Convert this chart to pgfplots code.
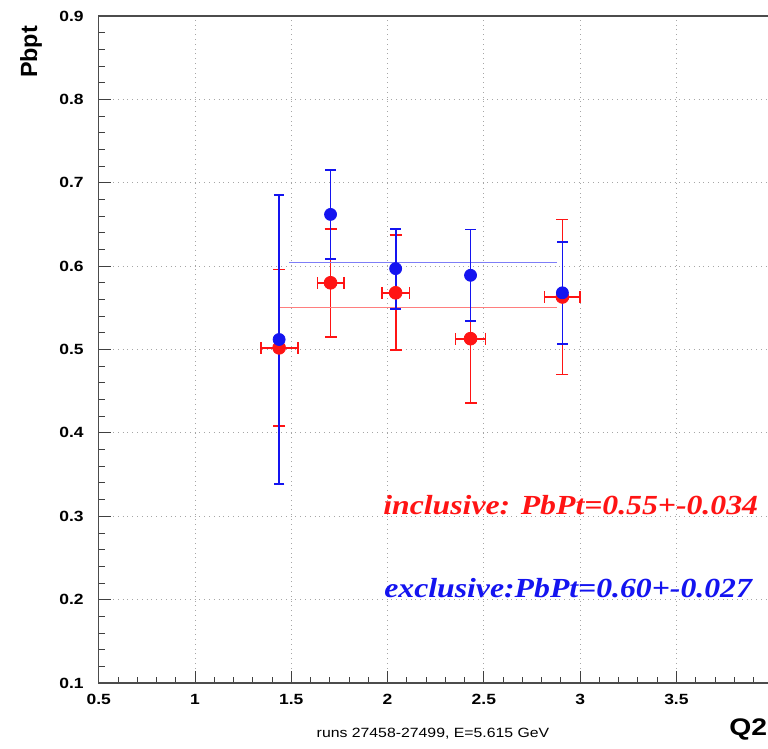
\documentclass[border=0pt]{standalone}
\usepackage{pgfplots}
\pgfplotsset{compat=1.18}
\usepackage{fontspec}
\setmainfont{Liberation Sans}[FakeStretch=1.18]
\newfontfamily\rootsans{Liberation Sans}
\newfontfamily\timesfont{Liberation Serif}[FakeStretch=1.15]
\definecolor{rootred}{RGB}{255,20,20}
\definecolor{rootblue}{RGB}{20,20,240}

\begin{document}
\begin{tikzpicture}
\begin{axis}[
  at={(0,0)}, anchor=south west,
  scale only axis, width=337pt, height=333.5pt,
  xmin=0.5, xmax=4, ymin=0.1, ymax=0.9,
  xtick={0.5,1,1.5,2,2.5,3,3.5,4},
  ytick={0.1,0.2,0.3,0.4,0.5,0.6,0.7,0.8,0.9},
  yticklabels={0.1,0.2,0.3,0.4,0.5,0.6,0.7,0.8,0.9},
  xticklabels={0.5,1,1.5,2,2.5,3,3.5,4},
  minor x tick num=4, minor y tick num=4,
  tick align=inside, tick pos=left,
  major tick length=6pt, minor tick length=3pt,
  tick style={black!75, line width=0.4pt},
  grid=major, major grid style={dotted, black!35, line width=0.4pt},
  axis line style={black!70, line width=0.6pt},
  ticklabel style={font=\bfseries\fontsize{7.4}{9}\selectfont},
  /pgf/number format/assume math mode=true,
  xticklabel style={yshift=-2pt},
  yticklabel style={xshift=-4pt},
  clip=false,
]
% inclusive
\addplot[only marks, mark=*, mark size=3.2pt, color=rootred,
  mark options={fill=rootred, draw=rootred},
  error bars/.cd, x dir=both, x explicit, y dir=both, y explicit,
  error bar style={line width=0.9pt, color=rootred},
  error mark options={rotate=90, mark size=3pt, line width=0.9pt, color=rootred}]
coordinates {
 (1.437,0.502) +- (0.096,0.094)
 (1.704,0.580) +- (0.068,0.065)
 (2.042,0.568) +- (0.072,0.069)
 (2.431,0.513) +- (0.078,0.077)
 (2.908,0.563) +- (0.093,0.093)
};
% fit lines
\addplot[rootred!55, line width=0.4pt] coordinates {(1.44,0.5507) (2.88,0.5507)};
\addplot[rootblue!55, line width=0.4pt] coordinates {(1.49,0.6047) (2.88,0.6047)};
% exclusive
\addplot[only marks, mark=*, mark size=3pt, color=rootblue,
  mark options={fill=rootblue, draw=rootblue},
  error bars/.cd, y dir=both, y explicit,
  error bar style={line width=0.9pt, color=rootblue},
  error mark options={rotate=90, mark size=2.6pt, line width=0.9pt, color=rootblue}]
coordinates {
 (1.437,0.512) +- (0,0.173)
 (1.704,0.662) +- (0,0.053)
 (2.042,0.597) +- (0,0.048)
 (2.431,0.589) +- (0,0.055)
 (2.908,0.568) +- (0,0.061)
};
\node[anchor=base west, inner sep=0, text=rootred,
  font=\timesfont\bfseries\itshape\fontsize{13.8}{16}\selectfont]
  at (axis cs:1.976,0.302) {inclusive: PbPt=0.55+-0.034};
\node[anchor=base west, inner sep=0, text=rootblue,
  font=\timesfont\bfseries\itshape\fontsize{13.8}{16}\selectfont]
  at (axis cs:1.981,0.202) {exclusive:PbPt=0.60+-0.027};
\end{axis}
\node[rotate=90, inner sep=0, font=\rootsans\bfseries\fontsize{11.7}{13}\selectfont]
  at (-33.85pt,315.5pt) {Pbpt};
\node[anchor=base west, inner sep=0, font=\bfseries\fontsize{12}{14}\selectfont]
  at (315.15pt,-26.5pt) {Q2};
\node[anchor=base, inner sep=0, font=\fontsize{6.7}{8}\selectfont]
  at (167.15pt,-27.5pt) {runs 27458-27499, E=5.615 GeV};
\pgfresetboundingbox
\path[use as bounding box] (-49.35pt,-33pt) rectangle (334.65pt,341.5pt);
\end{tikzpicture}
\end{document}
